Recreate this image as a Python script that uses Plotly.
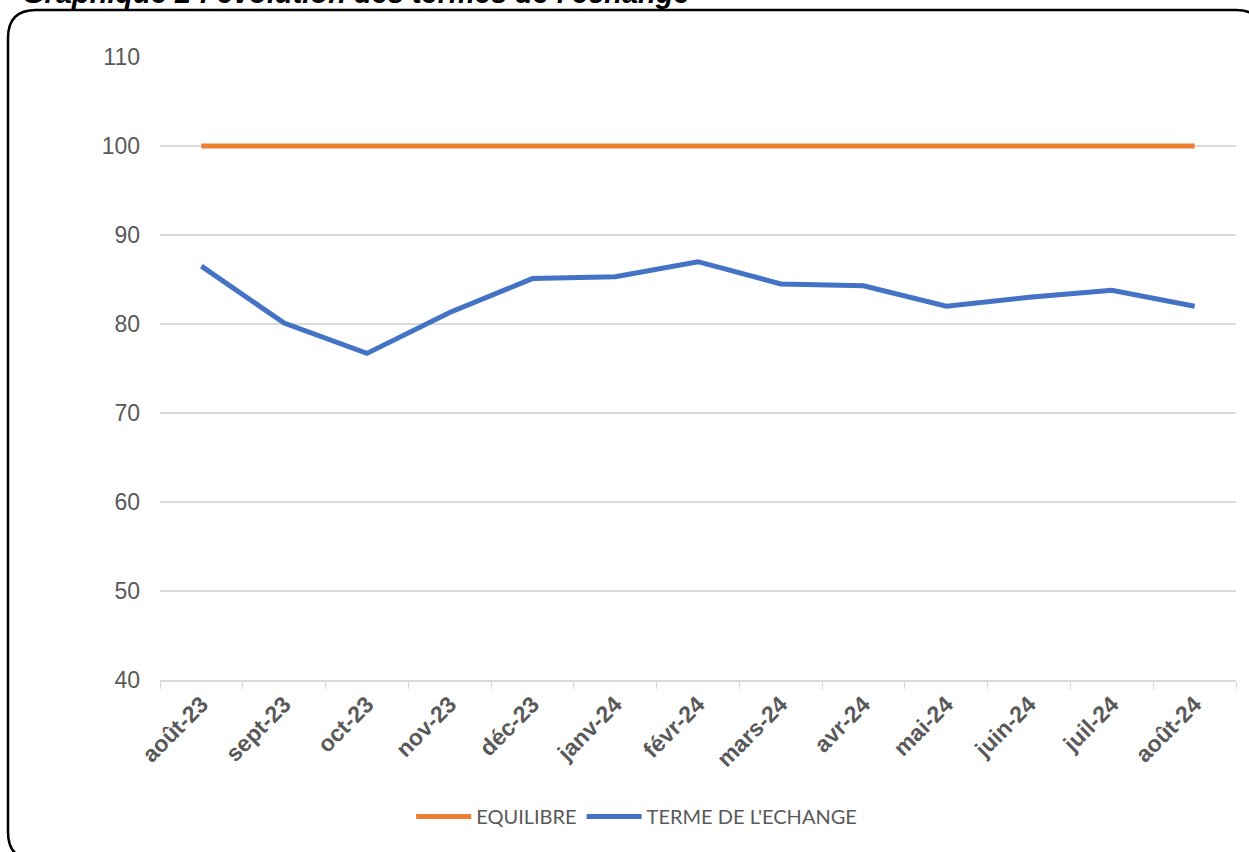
import plotly.graph_objects as go

# Données
mois = ['août-23', 'sept-23', 'oct-23', 'nov-23', 'déc-23', 'janv-24', 'févr-24',
        'mars-24', 'avr-24', 'mai-24', 'juin-24', 'juil-24', 'août-24']
equilibre = [100] * 13
terme_echange = [86.5, 80.1, 76.7, 81.3, 85.1, 85.3, 87.0, 84.5, 84.3, 82.0, 83.0, 83.8, 82.0]

W, H = 1249, 852
ML, MR, MT, MB = 160, 13, 57, 172
pw, ph = W - ML - MR, H - MT - MB


def px(x):
    return (x - ML) / pw


def py(y):
    return (H - MB - y) / ph


fig = go.Figure()
fig.add_trace(go.Scatter(x=mois, y=equilibre, name='EQUILIBRE', mode='lines',
                         line=dict(color='#ED7D31', width=5)))
fig.add_trace(go.Scatter(x=mois, y=terme_echange, name="TERME DE L'ECHANGE", mode='lines',
                         line=dict(color='#4472C4', width=5)))

# cadre arrondi
x0, y0, x1, y1, r = 8, 10, 1264, 860, 28
path = (f"M {px(x0 + r)},{py(y0)} L {px(x1 - r)},{py(y0)} Q {px(x1)},{py(y0)} {px(x1)},{py(y0 + r)} "
        f"L {px(x1)},{py(y1 - r)} Q {px(x1)},{py(y1)} {px(x1 - r)},{py(y1)} "
        f"L {px(x0 + r)},{py(y1)} Q {px(x0)},{py(y1)} {px(x0)},{py(y1 - r)} "
        f"L {px(x0)},{py(y0 + r)} Q {px(x0)},{py(y0)} {px(x0 + r)},{py(y0)} Z")
fig.add_shape(type='path', path=path, xref='paper', yref='paper',
              line=dict(color='black', width=2.5), layer='below')

fig.add_annotation(text="<b><i>Graphique 2 : évolution des termes de l'échange</i></b>",
                   xref='paper', yref='paper', x=px(20), y=py(11), xanchor='left', yanchor='bottom',
                   showarrow=False, font=dict(family='Liberation Sans, Arial', size=29, color='black'))

fig.update_layout(
    width=W, height=H,
    margin=dict(l=ML, r=MR, t=MT, b=MB),
    paper_bgcolor='white', plot_bgcolor='white',
    showlegend=True,
    legend=dict(orientation='h', x=0.443, xanchor='center', y=py(836), yanchor='bottom',
                itemwidth=55,
                font=dict(family='Lato, Open Sans', size=20, color='#595959')),
    xaxis=dict(type='category', tickangle=-45, tickson='boundaries', ticks='outside',
               ticklen=7, tickcolor='#d9d9d9', showline=True, linecolor='#d9d9d9', linewidth=1.5,
               showgrid=False, range=[-0.5, 12.5],
               tickfont=dict(family='Liberation Sans, Arial', size=23, color='#595959', weight='bold')),
    yaxis=dict(range=[40, 110], dtick=10, showgrid=True, gridcolor='#d9d9d9', gridwidth=1.5,
               zeroline=False, ticks='', ticklabelstandoff=19,
               tickfont=dict(family='Liberation Sans, Arial', size=23, color='#595959')),
)

# la page a une marge par défaut de 8px : on l'enlève
fig.write_html("out.html", config={'displayModeBar': False},
               post_script="document.body.style.margin='0';")
